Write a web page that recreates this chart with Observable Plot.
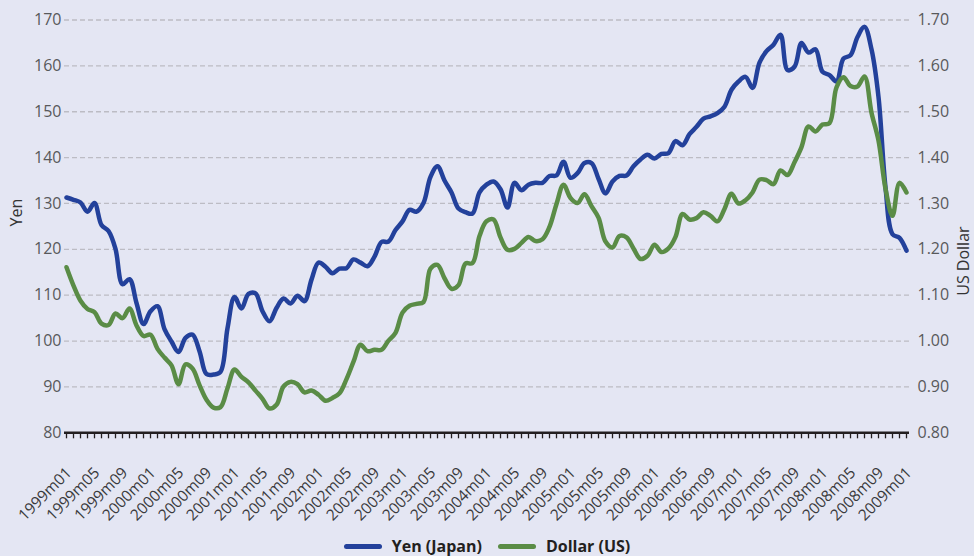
<!DOCTYPE html>
<html><head><meta charset="utf-8">
<script src="https://cdn.jsdelivr.net/npm/d3@7"></script>
<script src="https://cdn.jsdelivr.net/npm/@observablehq/plot@0.6"></script>
<style>
html,body{margin:0;padding:0;background:#e4e6f3;overflow:hidden;}
#chart{width:974px;height:556px;font-family:"Open Sans",sans-serif;}
#chart svg{display:block;}
.legend{display:flex;justify-content:center;align-items:center;height:20px;font:bold 16px "Open Sans",sans-serif;color:#231f20;}
.item{display:flex;align-items:center;margin:0 8px;}
.sw{display:inline-block;width:38px;height:5px;border-radius:3px;margin-right:10px;}
</style></head><body><div id="chart"></div>
<script>
const months = [
"1999m01","1999m02","1999m03","1999m04","1999m05","1999m06","1999m07","1999m08","1999m09","1999m10","1999m11","1999m12",
"2000m01","2000m02","2000m03","2000m04","2000m05","2000m06","2000m07","2000m08","2000m09","2000m10","2000m11","2000m12",
"2001m01","2001m02","2001m03","2001m04","2001m05","2001m06","2001m07","2001m08","2001m09","2001m10","2001m11","2001m12",
"2002m01","2002m02","2002m03","2002m04","2002m05","2002m06","2002m07","2002m08","2002m09","2002m10","2002m11","2002m12",
"2003m01","2003m02","2003m03","2003m04","2003m05","2003m06","2003m07","2003m08","2003m09","2003m10","2003m11","2003m12",
"2004m01","2004m02","2004m03","2004m04","2004m05","2004m06","2004m07","2004m08","2004m09","2004m10","2004m11","2004m12",
"2005m01","2005m02","2005m03","2005m04","2005m05","2005m06","2005m07","2005m08","2005m09","2005m10","2005m11","2005m12",
"2006m01","2006m02","2006m03","2006m04","2006m05","2006m06","2006m07","2006m08","2006m09","2006m10","2006m11","2006m12",
"2007m01","2007m02","2007m03","2007m04","2007m05","2007m06","2007m07","2007m08","2007m09","2007m10","2007m11","2007m12",
"2008m01","2008m02","2008m03","2008m04","2008m05","2008m06","2008m07","2008m08","2008m09","2008m10","2008m11","2008m12",
"2009m01"];

const yen = [
131.3,130.8,130.2,128.2,130.1,125.3,124.0,120.1,112.4,113.5,108.3,103.7,
106.5,107.6,102.6,99.9,97.6,100.7,101.4,97.8,92.8,92.7,93.3,102.8,
109.6,107.1,110.3,110.4,106.5,104.3,107.2,109.3,108.2,109.9,108.7,113.4,
117.1,116.2,114.8,115.8,115.9,117.8,117.1,116.3,118.4,121.6,121.7,124.2,
126.1,128.6,128.2,130.1,135.8,138.1,135.0,132.4,128.9,128.1,127.8,132.4,
134.1,134.8,133.1,129.1,134.5,132.9,134.1,134.5,134.5,136.0,136.1,139.1,
135.6,136.6,138.8,138.8,135.4,132.2,134.8,136.0,136.1,138.1,139.6,140.6,
139.8,140.8,141.0,143.6,142.7,145.1,146.7,148.5,149.0,149.7,151.1,154.8,
156.6,157.6,155.2,160.7,163.2,164.6,166.8,159.1,159.8,165.0,162.9,163.6,
158.7,158.0,156.6,161.6,162.3,166.3,168.5,163.6,153.2,133.5,123.3,122.5,
119.7];

const dollar = [
1.161,1.121,1.088,1.070,1.063,1.038,1.035,1.060,1.050,1.071,1.034,1.011,
1.014,0.983,0.964,0.947,0.906,0.949,0.940,0.904,0.872,0.855,0.856,0.897,
0.938,0.922,0.910,0.892,0.874,0.853,0.861,0.901,0.911,0.906,0.888,0.892,
0.883,0.870,0.876,0.886,0.917,0.955,0.992,0.978,0.981,0.981,1.001,1.018,
1.062,1.077,1.081,1.085,1.158,1.166,1.137,1.114,1.122,1.169,1.170,1.229,
1.261,1.265,1.226,1.199,1.201,1.214,1.227,1.218,1.222,1.249,1.299,1.341,
1.312,1.301,1.320,1.294,1.269,1.217,1.204,1.229,1.226,1.202,1.179,1.186,
1.210,1.194,1.202,1.227,1.277,1.265,1.268,1.281,1.273,1.261,1.288,1.321,
1.300,1.307,1.324,1.352,1.351,1.342,1.372,1.362,1.390,1.423,1.468,1.457,
1.472,1.475,1.553,1.575,1.556,1.555,1.577,1.498,1.437,1.332,1.273,1.345,
1.324];

const yenTicks = [80,90,100,110,120,130,140,150,160,170];
const dollarTicks = [0.80,0.90,1.00,1.10,1.20,1.30,1.40,1.50,1.60,1.70];
const tickLabels = months.filter((m, i) => i % 4 === 0);
const seriesNames = ["Yen (Japan)", "Dollar (US)"];
const seriesColors = ["#23419b", "#5a8c46"];

// dollar is drawn on the yen scale: 0.80 -> 80, 1.70 -> 170
const toYen = d => 80 + (d - 0.8) * 100;
const rows = months.map((m, i) => ({i, m, yen: yen[i], dollar: dollar[i]}));

const W = 974, H = 536;
const plot = Plot.plot({
  width: W, height: H,
  marginLeft: 64, marginRight: 65, marginTop: 19.5, marginBottom: H - 432.3,
  style: {background: "transparent", fontFamily: "'Open Sans', sans-serif", fontSize: "16px", overflow: "visible"},
  x: {type: "linear", domain: [0, months.length - 1], range: [66, 906]},
  y: {domain: [80, 170], range: [432.3, 19.5]},
  marks: [
    Plot.ruleY(yenTicks.slice(1), {stroke: "#bcbcc4", strokeWidth: 1.3, strokeDasharray: "5,3"}),
    Plot.axisY({ticks: yenTicks, tickSize: 0, tickPadding: 3, label: null, color: "#58595b", fontSize: 16}),
    Plot.axisY({anchor: "right", ticks: dollarTicks.map(toYen), tickFormat: v => ((v - 80) / 100 + 0.8).toFixed(2),
                tickSize: 0, tickPadding: 8, label: null, color: "#58595b", fontSize: 16}),
    Plot.axisX({ticks: months.map((m, i) => i), tickSize: 6, tickFormat: () => "", label: null, stroke: "#231f20", strokeWidth: 1.3}),
    Plot.ruleY([80], {stroke: "#231f20", strokeWidth: 2.5}),
    Plot.text(tickLabels, {x: d => months.indexOf(d), frameAnchor: "bottom", text: d => d, rotate: -45,
                           textAnchor: "end", dx: 6, dy: 41, fontSize: 15.5, fill: "#3a3a3c"}),
    Plot.text(["Yen"], {frameAnchor: "left", text: d => d, rotate: -90, dx: -48, fontSize: 16, fill: "#333"}),
    Plot.text(["US Dollar"], {frameAnchor: "right", text: d => d, rotate: -90, dx: 54, fontSize: 16, fill: "#333"}),
    Plot.lineY(rows, {x: "i", y: "yen", stroke: seriesColors[0], strokeWidth: 4.5, curve: "catmull-rom",
                      strokeLinecap: "round", strokeLinejoin: "round"}),
    Plot.lineY(rows, {x: "i", y: d => toYen(d.dollar), stroke: seriesColors[1], strokeWidth: 4.5, curve: "catmull-rom",
                      strokeLinecap: "round", strokeLinejoin: "round"})
  ]
});
const root = document.getElementById("chart");
root.appendChild(plot);
const legend = document.createElement("div");
legend.className = "legend";
seriesNames.forEach((n, k) => {
  const it = document.createElement("span");
  it.className = "item";
  const sw = document.createElement("span");
  sw.className = "sw";
  sw.style.background = seriesColors[k];
  it.appendChild(sw);
  it.appendChild(document.createTextNode(n));
  legend.appendChild(it);
});
root.appendChild(legend);
</script></body></html>
